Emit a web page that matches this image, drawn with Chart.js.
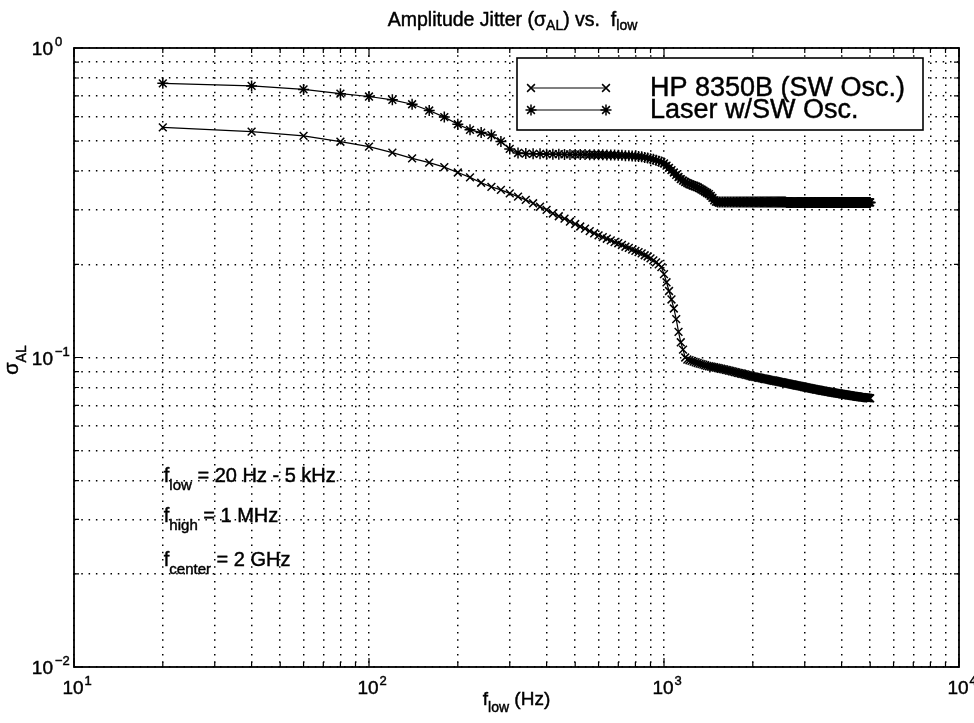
<!DOCTYPE html>
<html>
<head>
<meta charset="utf-8">
<title>Amplitude Jitter vs f_low</title>
<script src="https://cdn.jsdelivr.net/npm/chart.js@4.4.1/dist/chart.umd.min.js"></script>
<style>
  body { margin: 0; background: #fff; }
  canvas { display: block; }
</style>
</head>
<body>
<canvas id="jitterChart" width="974" height="723"></canvas>
<script>
// f_low sweep: 20 Hz .. 5 kHz, one sample every 20 Hz
const fLow = [];
for (let f = 20; f <= 5000; f += 20) fLow.push(f);

// sigma_AL, 10 samples (200 Hz) per row
const hpSigma = [
    0.554, 0.537, 0.520, 0.498, 0.480, 0.459, 0.440, 0.426, 0.412, 0.396,
    0.382, 0.367, 0.356, 0.348, 0.339, 0.331, 0.323, 0.315, 0.307, 0.300,
    0.292, 0.286, 0.281, 0.275, 0.270, 0.265, 0.261, 0.256, 0.252, 0.248,
    0.245, 0.242, 0.239, 0.236, 0.234, 0.231, 0.228, 0.226, 0.223, 0.221,
    0.219, 0.217, 0.214, 0.212, 0.209, 0.206, 0.203, 0.200, 0.196, 0.186,
    0.175, 0.164, 0.154, 0.144, 0.133, 0.121, 0.112, 0.106, 0.100, 0.0985,
    0.0980, 0.0975, 0.0970, 0.0965, 0.0960, 0.0956, 0.0952, 0.0948, 0.0944, 0.0940,
    0.0937, 0.0935, 0.0932, 0.0930, 0.0927, 0.0925, 0.0922, 0.0920, 0.0917, 0.0915,
    0.0912, 0.0910, 0.0907, 0.0905, 0.0902, 0.0900, 0.0897, 0.0895, 0.0892, 0.0890,
    0.0888, 0.0886, 0.0884, 0.0882, 0.0879, 0.0877, 0.0875, 0.0873, 0.0870, 0.0868,
    0.0867, 0.0865, 0.0864, 0.0862, 0.0860, 0.0859, 0.0857, 0.0856, 0.0854, 0.0852,
    0.0851, 0.0850, 0.0848, 0.0847, 0.0845, 0.0844, 0.0843, 0.0841, 0.0840, 0.0838,
    0.0837, 0.0836, 0.0834, 0.0833, 0.0832, 0.0831, 0.0829, 0.0828, 0.0826, 0.0825,
    0.0824, 0.0823, 0.0822, 0.0820, 0.0819, 0.0818, 0.0817, 0.0816, 0.0814, 0.0813,
    0.0812, 0.0811, 0.0810, 0.0809, 0.0808, 0.0807, 0.0806, 0.0805, 0.0803, 0.0802,
    0.0801, 0.0800, 0.0799, 0.0798, 0.0797, 0.0796, 0.0795, 0.0794, 0.0793, 0.0792,
    0.0791, 0.0790, 0.0789, 0.0788, 0.0787, 0.0787, 0.0786, 0.0785, 0.0784, 0.0783,
    0.0782, 0.0781, 0.0781, 0.0780, 0.0779, 0.0778, 0.0778, 0.0777, 0.0776, 0.0775,
    0.0774, 0.0774, 0.0773, 0.0772, 0.0772, 0.0771, 0.0770, 0.0770, 0.0769, 0.0768,
    0.0767, 0.0767, 0.0766, 0.0766, 0.0765, 0.0765, 0.0764, 0.0763, 0.0763, 0.0762,
    0.0761, 0.0761, 0.0760, 0.0760, 0.0759, 0.0759, 0.0758, 0.0757, 0.0757, 0.0756,
    0.0755, 0.0755, 0.0754, 0.0754, 0.0753, 0.0753, 0.0752, 0.0752, 0.0751, 0.0751,
    0.0750, 0.0750, 0.0749, 0.0749, 0.0748, 0.0748, 0.0747, 0.0747, 0.0746, 0.0746,
    0.0745, 0.0745, 0.0745, 0.0744, 0.0744, 0.0743, 0.0743, 0.0743, 0.0742, 0.0742,
    0.0741, 0.0741, 0.0741, 0.0740, 0.0740, 0.0740, 0.0739, 0.0739, 0.0739, 0.0738
];

const laserSigma = [
    0.769, 0.754, 0.735, 0.712, 0.697, 0.680, 0.658, 0.628, 0.598, 0.567,
    0.544, 0.533, 0.523, 0.499, 0.472, 0.458, 0.456, 0.455, 0.455, 0.454,
    0.454, 0.454, 0.453, 0.453, 0.453, 0.453, 0.453, 0.452, 0.452, 0.452,
    0.452, 0.451, 0.451, 0.451, 0.450, 0.450, 0.449, 0.449, 0.448, 0.447,
    0.446, 0.445, 0.443, 0.441, 0.439, 0.437, 0.434, 0.431, 0.428, 0.424,
    0.417, 0.410, 0.403, 0.396, 0.389, 0.383, 0.377, 0.373, 0.369, 0.366,
    0.363, 0.361, 0.359, 0.357, 0.355, 0.352, 0.349, 0.346, 0.343, 0.340,
    0.337, 0.333, 0.328, 0.322, 0.319, 0.318, 0.318, 0.318, 0.318, 0.318,
    0.318, 0.318, 0.318, 0.318, 0.318, 0.318, 0.318, 0.318, 0.318, 0.318,
    0.318, 0.318, 0.318, 0.318, 0.318, 0.318, 0.318, 0.318, 0.318, 0.318,
    0.318, 0.318, 0.318, 0.318, 0.318, 0.318, 0.318, 0.318, 0.318, 0.318,
    0.318, 0.318, 0.318, 0.318, 0.318, 0.318, 0.318, 0.318, 0.318, 0.318,
    0.318, 0.318, 0.318, 0.318, 0.318, 0.318, 0.318, 0.318, 0.318, 0.317,
    0.317, 0.317, 0.317, 0.317, 0.317, 0.317, 0.317, 0.317, 0.317, 0.317,
    0.317, 0.317, 0.317, 0.317, 0.317, 0.317, 0.317, 0.317, 0.317, 0.317,
    0.317, 0.317, 0.317, 0.317, 0.317, 0.317, 0.317, 0.317, 0.317, 0.317,
    0.317, 0.317, 0.317, 0.317, 0.317, 0.317, 0.317, 0.317, 0.317, 0.317,
    0.317, 0.317, 0.317, 0.317, 0.317, 0.317, 0.317, 0.317, 0.317, 0.317,
    0.317, 0.317, 0.317, 0.317, 0.317, 0.317, 0.317, 0.317, 0.317, 0.317,
    0.317, 0.317, 0.317, 0.317, 0.317, 0.317, 0.317, 0.317, 0.317, 0.317,
    0.317, 0.317, 0.317, 0.317, 0.317, 0.317, 0.317, 0.317, 0.317, 0.317,
    0.317, 0.317, 0.317, 0.317, 0.317, 0.317, 0.317, 0.317, 0.317, 0.317,
    0.317, 0.317, 0.317, 0.317, 0.317, 0.317, 0.317, 0.317, 0.317, 0.317,
    0.317, 0.317, 0.317, 0.317, 0.317, 0.317, 0.317, 0.317, 0.317, 0.317,
    0.317, 0.317, 0.317, 0.317, 0.317, 0.317, 0.317, 0.317, 0.317, 0.317
];

const seriesNames = ['HP 8350B (SW Osc.)', 'Laser w/SW Osc.'];

// decade ticks and their exponent labels
const xDecades = [10, 100, 1000, 10000];
const xExponents = ['1', '2', '3', '4'];
const yDecades = [0.01, 0.1, 1];
const yExponents = ['\u22122', '\u22121', '0'];

const notes = [
    ['low', ' = 20 Hz - 5 kHz'],
    ['high', ' = 1 MHz'],
    ['center', ' = 2 GHz']
];

const FONT = '"Liberation Sans", Arial, Helvetica, sans-serif';

// decade ticks plus 2..9 minors in between
function logGrid(decades) {
    const out = [];
    for (let i = 0; i < decades.length - 1; i++) {
        for (let k = 1; k < 10; k++) out.push(+(decades[i] * k).toPrecision(6));
    }
    out.push(decades[decades.length - 1]);
    return out;
}

// the scanned original has heavy type, so fill plus a thin stroke
function ink(ctx, s, x, y) {
    ctx.fillText(s, x, y);
    ctx.lineWidth = 0.45;
    ctx.strokeText(s, x, y);
}

// text with sub/superscript pieces: [text, size, dy]
function richText(ctx, parts, x, y, align) {
    let w = 0;
    parts.forEach(p => { ctx.font = p[1] + 'px ' + FONT; w += ctx.measureText(p[0]).width; });
    let cx = align === 'center' ? x - w / 2 : (align === 'right' ? x - w : x);
    ctx.textAlign = 'left';
    ctx.textBaseline = 'alphabetic';
    parts.forEach(p => {
        ctx.font = p[1] + 'px ' + FONT;
        ink(ctx, p[0], cx, y + (p[2] || 0));
        cx += ctx.measureText(p[0]).width;
    });
}

function marker(ctx, style, x, y, r) {
    const d = r * Math.SQRT1_2;
    ctx.beginPath();
    ctx.moveTo(x - d, y - d); ctx.lineTo(x + d, y + d);
    ctx.moveTo(x - d, y + d); ctx.lineTo(x + d, y - d);
    if (style === 'star') {
        ctx.moveTo(x - r, y); ctx.lineTo(x + r, y);
        ctx.moveTo(x, y - r); ctx.lineTo(x, y + r);
    }
    ctx.stroke();
}

const matlabAxes = {
    id: 'matlabAxes',
    afterDraw(chart) {
        const { ctx, chartArea: a, scales: { x, y } } = chart;
        ctx.save();
        ctx.strokeStyle = '#000';
        ctx.fillStyle = '#000';

        // inside tick marks on all four sides
        ctx.lineWidth = 1.2;
        ctx.beginPath();
        x.ticks.forEach(t => {
            const px = x.getPixelForValue(t.value);
            const len = xDecades.includes(t.value) ? 9 : 5;
            ctx.moveTo(px, a.bottom); ctx.lineTo(px, a.bottom - len);
            ctx.moveTo(px, a.top); ctx.lineTo(px, a.top + len);
        });
        y.ticks.forEach(t => {
            const py = y.getPixelForValue(t.value);
            const len = yDecades.includes(t.value) ? 9 : 5;
            ctx.moveTo(a.left, py); ctx.lineTo(a.left + len, py);
            ctx.moveTo(a.right, py); ctx.lineTo(a.right - len, py);
        });
        ctx.stroke();

        ctx.lineWidth = 1.8;
        ctx.strokeRect(a.left, a.top, a.right - a.left, a.bottom - a.top);

        // decade labels 10^n
        ctx.textBaseline = 'alphabetic';
        xDecades.forEach((v, i) => {
            const px = x.getPixelForValue(v);
            ctx.font = '19px ' + FONT;
            const w = ctx.measureText('10').width;
            ctx.textAlign = 'center';
            ink(ctx, '10', px - 1, a.bottom + 27);
            ctx.font = '13px ' + FONT;
            ctx.textAlign = 'left';
            ink(ctx, xExponents[i], px + w / 2, a.bottom + 18);
        });
        yDecades.forEach((v, i) => {
            const py = y.getPixelForValue(v);
            ctx.font = '19px ' + FONT;
            ctx.textAlign = 'right';
            ink(ctx, '10', a.left - 21, py + 7);
            ctx.font = '13px ' + FONT;
            ctx.textAlign = 'left';
            ink(ctx, yExponents[i], a.left - 19, py - 2);
        });

        // titles
        const midX = (a.left + a.right) / 2;
        richText(ctx, [['Amplitude Jitter (\u03c3', 19.5], ['AL', 14, 4], [') vs.  f', 19.5], ['low', 14, 4]], midX - 4, 26, 'center');
        richText(ctx, [['f', 19], ['low', 14, 7], [' (Hz)', 19]], midX, 705, 'center');
        ctx.save();
        ctx.translate(18, 360);
        ctx.rotate(-Math.PI / 2);
        richText(ctx, [['\u03c3', 20], ['AL', 14, 8]], 0, 0, 'center');
        ctx.restore();

        // parameter notes
        const noteX = x.getPixelForValue(20) + 1;
        [482, 522, 566].forEach((by, i) => {
            richText(ctx, [['f', 20], [notes[i][0], 15, 8], [notes[i][1], 20]], noteX, by, 'left');
        });

        // legend box
        ctx.fillStyle = '#fff';
        ctx.fillRect(517, 58, 406, 72);
        ctx.lineWidth = 1.6;
        ctx.strokeRect(517, 58, 406, 72);
        ctx.fillStyle = '#000';
        chart.data.datasets.forEach((ds, i) => {
            const ly = 88 + i * 22;
            ctx.lineWidth = 1.2;
            ctx.beginPath();
            ctx.moveTo(531, ly); ctx.lineTo(606, ly);
            ctx.stroke();
            ctx.lineWidth = 1.5;
            marker(ctx, ds.pointStyle, 531, ly, ds.pointRadius);
            marker(ctx, ds.pointStyle, 606, ly, ds.pointRadius);
            ctx.font = '27px ' + FONT;
            ctx.textAlign = 'left';
            ink(ctx, ds.label, 650, 96 + i * 22);
        });
        ctx.restore();
    }
};

function gridAxis(values, fitFn) {
    return {
        type: 'logarithmic',
        min: values[0],
        max: values[values.length - 1],
        afterBuildTicks: s => { s.ticks = logGrid(values).map(v => ({ value: v })); },
        afterFit: fitFn,
        ticks: { display: false, autoSkip: false },
        grid: { color: '#000', lineWidth: 1.5, drawTicks: false },
        border: { display: false, dash: [1.5, 5.8] }
    };
}

const ctx = document.getElementById('jitterChart').getContext('2d');
new Chart(ctx, {
    type: 'line',
    data: {
        datasets: [
            {
                label: seriesNames[0],
                data: fLow.map((f, i) => ({ x: f, y: hpSigma[i] })),
                borderColor: '#000',
                borderWidth: 1.2,
                pointStyle: 'crossRot',
                pointRadius: 5.5,
                pointBorderWidth: 1.5,
                pointBorderColor: '#000',
                pointBackgroundColor: '#000',
                fill: false,
                tension: 0
            },
            {
                label: seriesNames[1],
                data: fLow.map((f, i) => ({ x: f, y: laserSigma[i] })),
                borderColor: '#000',
                borderWidth: 1.2,
                pointStyle: 'star',
                pointRadius: 5.5,
                pointBorderWidth: 1.5,
                pointBorderColor: '#000',
                pointBackgroundColor: '#000',
                fill: false,
                tension: 0
            }
        ]
    },
    options: {
        responsive: false,
        animation: false,
        layout: { padding: { top: 48, right: 15, left: 0, bottom: 0 } },
        plugins: {
            legend: { display: false },
            title: { display: false },
            tooltip: { enabled: false }
        },
        scales: {
            x: gridAxis(xDecades, s => { s.height = 56; }),
            y: gridAxis(yDecades, s => { s.width = 74; })
        }
    },
    plugins: [matlabAxes]
});
</script>
</body>
</html>
